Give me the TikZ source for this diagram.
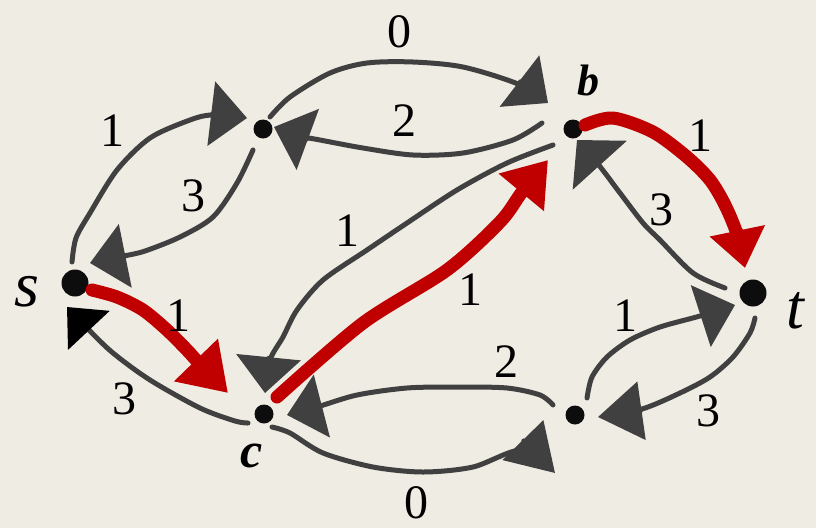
\documentclass[tikz,border=0pt]{standalone}
\usepackage{fontspec}
\setmainfont{Liberation Serif}
\usetikzlibrary{arrows.meta}
\definecolor{bgc}{RGB}{239,236,227}
\definecolor{eg}{RGB}{64,64,64}
\definecolor{rd}{RGB}{192,0,0}
\definecolor{dotc}{RGB}{13,13,13}
\begin{document}
\begin{tikzpicture}[x=1pt,y=-1pt,
  dotnode/.style={circle,fill=dotc,inner sep=0pt,minimum size=#1},
  edge/.style={draw=eg,line width=5pt,line cap=round,line join=round},
  redge/.style={draw=rd,line width=13pt,line cap=round,line join=round},
  gtip/.style={-{Triangle[length=36pt,width=64pt]}},
  lab/.style={inner sep=0pt,font=\fontsize{48}{48}\selectfont},
  vlab/.style={inner sep=0pt,font=\fontsize{64}{64}\selectfont\itshape},
  blab/.style={inner sep=0pt,font=\fontsize{#1}{#1}\selectfont\bfseries\itshape}]
\useasboundingbox (0,0) rectangle (816,528);
\fill[bgc] (0,0) rectangle (816,528);
% nodes
\node[dotnode=27pt] (s) at (75,283) {};
\node[dotnode=27pt] (t) at (753,293) {};
\node[dotnode=19pt] (b) at (573,129) {};
\node[dotnode=19pt] (u) at (263,129) {};
\node[dotnode=19pt] (c) at (264,414) {};
\node[dotnode=19pt] (v) at (575,415) {};
% vertex labels
\node[vlab] (ls) at (27,292) {s};
\node[vlab] (lt) at (795,311) {t};
\node[blab=44pt] (lb) at (588,80) {b};
\node[blab=50pt] (lc) at (252,456) {c};
% end points of connectors
\path (s) ++(-3,-21) coordinate (su1);  \path (u) ++(-16,-11) coordinate (su2);
\path (u) ++(-10,21) coordinate (us1);  \path (s) ++(15,-20) coordinate (us2);
\path (u) ++(7,-12) coordinate (ub1);   \path (b) ++(-25,-26) coordinate (ub2);
\path (b) ++(-31,-6) coordinate (bu1);  \path (u) ++(11,-2) coordinate (bu2);
\path (b) ++(12,-4) coordinate (bt1);   \path (t) ++(-8,-25) coordinate (bt2);
\path (t) ++(-28,-5) coordinate (tb1);  \path (b) ++(4,11) coordinate (tb2);
\path (s) ++(17,7) coordinate (sc1);    \path (c) ++(-36,-21) coordinate (sc2);
\path (c) ++(-16,9) coordinate (cs1);   \path (s) ++(-8,24) coordinate (cs2);
\path (b) ++(-20,16) coordinate (bc1);  \path (c) ++(1,-21) coordinate (bc2);
\path (c) ++(13,-17) coordinate (cb1);  \path (b) ++(-25,31) coordinate (cb2);
\path (v) ++(-22,-10) coordinate (vc1); \path (c) ++(23,1) coordinate (vc2);
\path (c) ++(8,13) coordinate (cv1);    \path (v) ++(-20,58) coordinate (cv2);
\path (v) ++(12,-17) coordinate (vt1);  \path (t) ++(-18,12) coordinate (vt2);
\path (t) ++(2,25) coordinate (tv1);    \path (v) ++(23,2) coordinate (tv2);
% grey connectors
\draw[edge,gtip] plot[smooth] coordinates {(su1) (76,238) (90,213) (117,170) (150,138) (190,120) (212,115) (su2)};
\draw[edge,gtip] plot[smooth] coordinates {(us1) (237,183) (213,217) (180,237) (145,251) (124,256) (us2)};
\draw[edge,gtip] plot[smooth] coordinates {(ub1) (290,97) (330,73) (367,63) (413,62) (463,67) (518,84) (ub2)};
\draw[edge,gtip] plot[smooth] coordinates {(bu1) (513,140) (463,153) (413,155) (363,148) (320,140) (300,136) (bu2)};
\draw[edge,-{Triangle[length=34pt,width=72pt]}] plot[smooth] coordinates {(tb1) (693,273) (660,240) (643,223) (620,193) (598,164) (tb2)};
\draw[edge,-{Triangle[length=32pt,width=56pt,color=black]}] plot[smooth] coordinates {(cs1) (235,421) (200,408) (150,380) (113,353) (88,329) (cs2)};
\draw[edge,gtip] plot[smooth] coordinates {(bc1) (507,163) (457,190) (407,223) (367,250) (323,280) (297,310) (283,337) (270,360) (bc2)};
\draw[edge,gtip] plot[smooth] coordinates {(vc1) (540,395) (507,388) (457,387) (407,388) (357,395) (317,407) (vc2)};
\draw[edge,-{Triangle[length=46pt,width=56pt]}] plot[smooth] coordinates {(cv1) (290,433) (323,453) (373,467) (423,472) (473,467) (522,450) (cv2)};
\draw[edge,gtip] plot[smooth] coordinates {(vt1) (592,377) (607,357) (630,340) (660,327) (700,316) (vt2)};
\draw[edge,-{Triangle[length=44pt,width=58pt]}] plot[smooth] coordinates {(tv1) (750,333) (733,357) (710,377) (680,393) (642,409) (tv2)};
% red connectors
\draw[redge,-{Triangle[length=38pt,width=54pt]}] plot[smooth] coordinates {(bt1) (613,118) (653,132) (687,157) (710,180) (725,205) (737,234) (bt2)};
\draw[redge,-{Triangle[length=46pt,width=58pt]}] plot[smooth] coordinates {(sc1) (117,297) (143,310) (167,330) (187,350) (198,362) (sc2)};
\draw[redge,-{Triangle[length=42pt,width=56pt]}] plot[smooth] coordinates {(cb1) (363,323) (447,270) (500,222) (522,192) (cb2)};
% weights
\node[lab] (w1) at (112,131) {1};
\node[lab] (w2) at (193,196) {3};
\node[lab] (w3) at (399,32) {0};
\node[lab] (w4) at (404,121) {2};
\node[lab] (w5) at (700,136) {1};
\node[lab] (w6) at (661,210) {3};
\node[lab] (w7) at (178,316) {1};
\node[lab] (w8) at (124,399) {3};
\node[lab] (w9) at (347,231) {1};
\node[lab] (w10) at (470,290) {1};
\node[lab] (w11) at (506,362) {2};
\node[lab] (w12) at (416,503) {0};
\node[lab] (w13) at (625,316) {1};
\node[lab] (w14) at (708,411) {3};
\end{tikzpicture}
\end{document}
